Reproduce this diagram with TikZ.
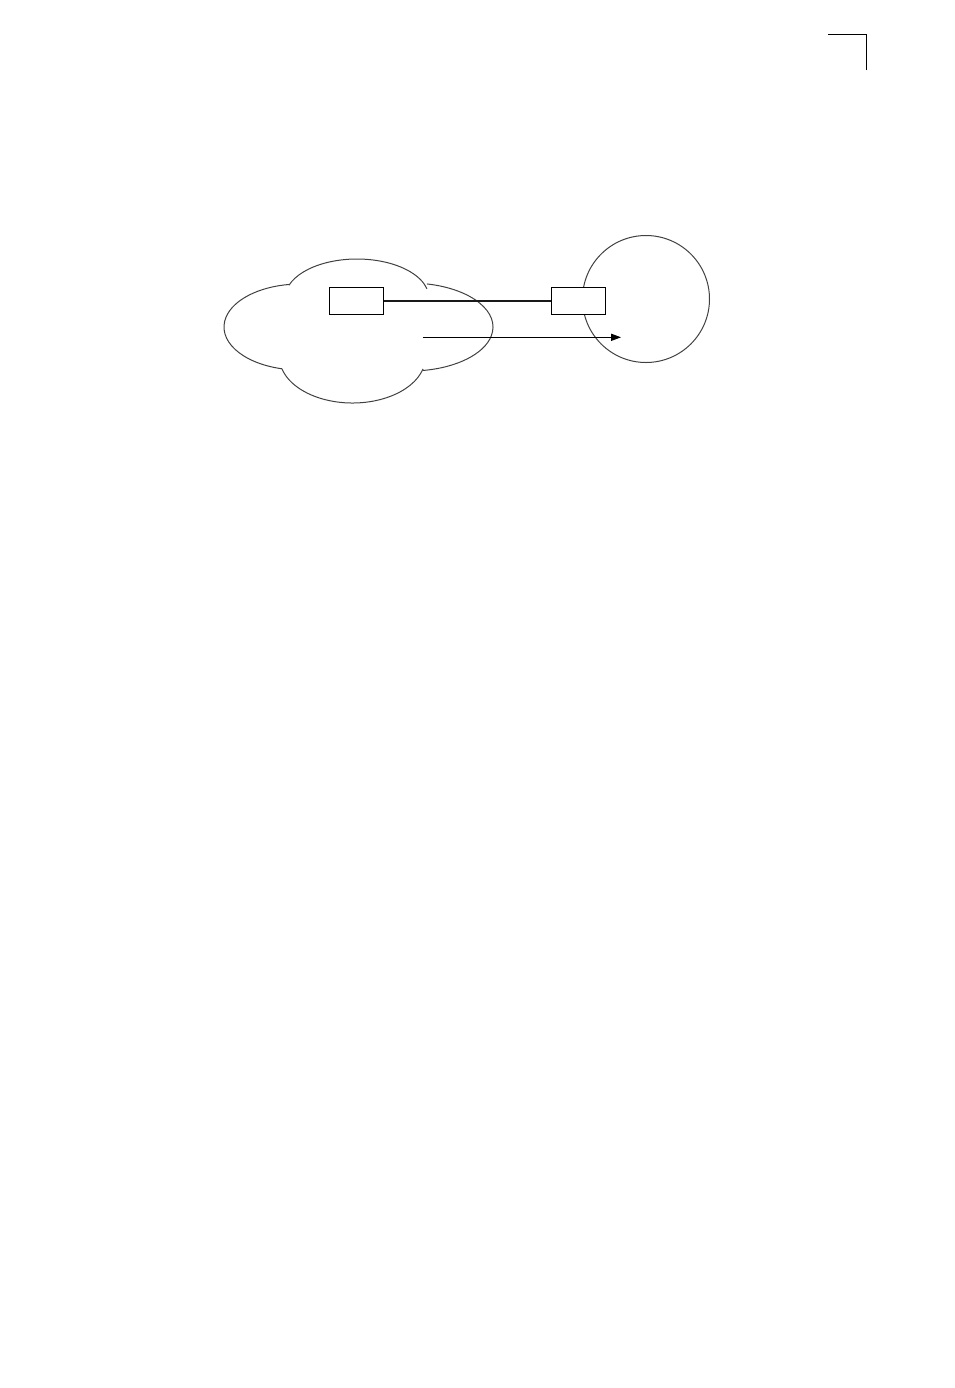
\documentclass[tikz,border=0pt]{standalone}
\usetikzlibrary{arrows.meta}
\begin{document}
\begin{tikzpicture}[x=0.5pt,y=0.5pt,
  outline/.style={draw=black!75,line width=0.5pt},
  devbox/.style={draw=black,fill=white,line width=0.5pt,minimum width=27pt,minimum height=13.5pt,inner sep=0pt},
  link/.style={draw=black!90,line width=1.1pt},
  flow/.style={draw=black,line width=0.5pt,-{Triangle[length=5pt,width=3.6pt]}},
  cropmark/.style={draw=black,line width=0.6pt}]
\useasboundingbox (0,0) rectangle (954,-1388);
% crop mark
\coordinate (cm1) at (828,-34.3);
\coordinate (cm2) at (866.5,-34.3);
\coordinate (cm3) at (866.5,-69.5);
\draw[cropmark] (cm1) -- (cm2) -- (cm3);
% cloud
\coordinate (ctop) at (357,-298);
\coordinate (cright) at (410,-327);
\coordinate (cbot) at (352.5,-357);
\coordinate (cleft) at (300,-327);
\path[outline]
  (ctop) ++(160.8:36pt and 19.5pt) arc[start angle=160.8,end angle=13.6,x radius=36pt,y radius=19.5pt]
  (cright) ++(78.2:41.5pt and 22pt) arc[start angle=78.2,end angle=-81,x radius=41.5pt,y radius=22pt]
  (cbot) ++(-15:36.5pt and 23pt) arc[start angle=-15,end angle=-165,x radius=36.5pt,y radius=23pt]
  (cleft) ++(256.3:38pt and 21.5pt) arc[start angle=256.3,end angle=98.3,x radius=38pt,y radius=21.5pt];
% circle
\node[outline,circle,minimum size=63.5pt,inner sep=0pt] (area) at (646,-299) {};
% boxes
\node[devbox] (b1) at (356.3,-300.8) {};
\node[devbox] (b2) at (578.5,-300.8) {};
\draw[link] (b1) -- (b2);
% arrow
\coordinate (a1) at (422.7,-337.3);
\coordinate (a2) at (621,-337.3);
\draw[flow] (a1) -- (a2);
\end{tikzpicture}
\end{document}
